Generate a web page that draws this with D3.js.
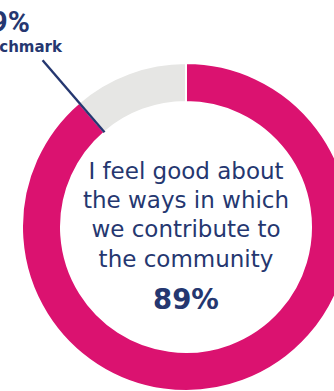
<!DOCTYPE html>
<html>
<head>
<meta charset="utf-8">
<script src="https://cdn.jsdelivr.net/npm/d3@7"></script>
<style>
html,body{margin:0;padding:0;background:#fff;overflow:hidden;}
svg{display:block;}
</style>
</head>
<body>
<svg id="chart" width="334" height="391"></svg>
<script>
const categories = ["Agree", "Other"];
const values = [88.7, 11.3];
const benchmarkValue = 88.7;
const benchmarkText = "89%";
const benchmarkLabel = "Benchmark";
const questionLines = ["I feel good about", "the ways in which", "we contribute to", "the community"];
const centerValueLabel = "89%";

const pink = "#db1270", grey = "#e6e6e4", navy = "#253770";
const svg = d3.select("#chart");
const cx = 186, cy = 227, R = 164, r = 125;
const g = svg.append("g").attr("transform", `translate(${cx},${cy})`);

const pie = d3.pie().sort(null).value(d => d);
const arc = d3.arc().innerRadius(r).outerRadius(R);
g.selectAll("path.slice").data(pie(values)).join("path")
  .attr("class", "slice")
  .attr("d", arc)
  .attr("fill", (d, i) => i === 0 ? pink : grey)
  .attr("stroke", "#fff").attr("stroke-width", 2);

// benchmark line
const ang = d3.scaleLinear().domain([0, 100]).range([0, 2 * Math.PI]);
const a = ang(benchmarkValue);
const r0 = r, r1 = 220;
g.append("line")
  .attr("x1", r0 * Math.sin(a)).attr("y1", -r0 * Math.cos(a))
  .attr("x2", r1 * Math.sin(a)).attr("y2", -r1 * Math.cos(a))
  .attr("stroke", navy).attr("stroke-width", 2.4);

svg.append("text").attr("x", 30).attr("y", 32)
  .attr("text-anchor", "end")
  .attr("font-family", "Roboto, sans-serif").attr("font-weight", 700)
  .attr("font-size", 30).attr("fill", navy).text(benchmarkText);
svg.append("text").attr("x", 62).attr("y", 52)
  .attr("text-anchor", "end")
  .attr("font-family", "'DejaVu Sans', sans-serif").attr("font-weight", 700)
  .attr("font-size", 15).attr("fill", navy).text(benchmarkLabel);

const t = svg.append("text").attr("text-anchor", "middle")
  .attr("font-family", "'DejaVu Sans', sans-serif").attr("font-size", 23)
  .attr("fill", navy);
questionLines.forEach((l, i) => {
  t.append("tspan").attr("x", cx).attr("y", 179 + i * 29.2).text(l);
});
svg.append("text").attr("x", cx).attr("y", 309).attr("text-anchor", "middle")
  .attr("font-family", "'DejaVu Sans', sans-serif").attr("font-weight", 700)
  .attr("font-size", 27.5).attr("fill", navy).text(centerValueLabel);
</script>
</body>
</html>
